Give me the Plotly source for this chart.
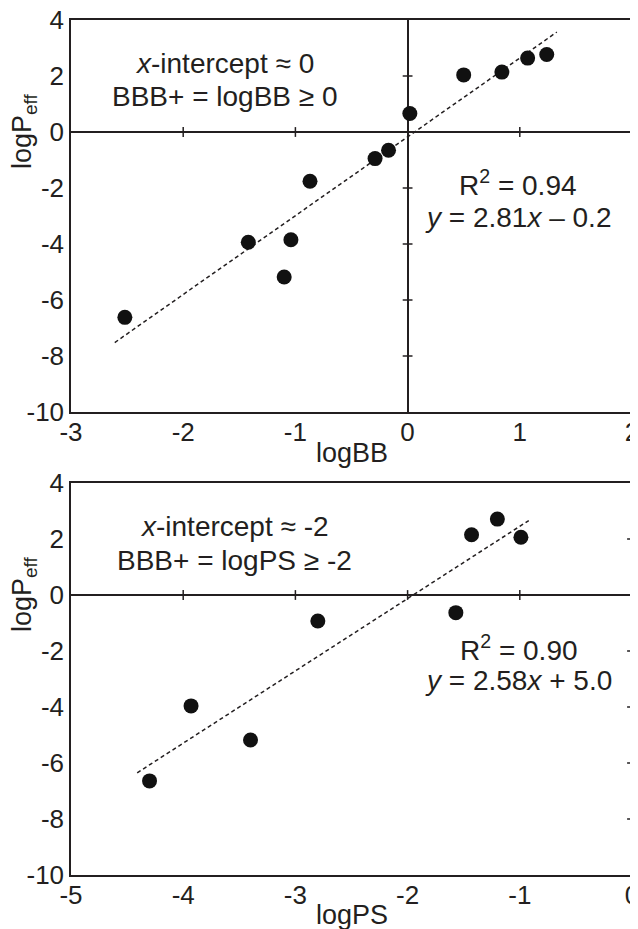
import plotly.graph_objects as go

# ---- data ----
bb_x = [-2.52, -1.42, -1.10, -1.04, -0.87, -0.29, -0.17, 0.02, 0.50, 0.84, 1.07, 1.24]
bb_y = [-6.62, -3.94, -5.18, -3.85, -1.76, -0.95, -0.65, 0.66, 2.04, 2.14, 2.64, 2.77]
bb_fit_x = [-2.61, 1.33]
bb_fit_y = [-7.52, 3.57]

ps_x = [-4.30, -3.93, -3.40, -2.80, -1.57, -1.43, -1.20, -0.99]
ps_y = [-6.64, -3.96, -5.18, -0.93, -0.63, 2.15, 2.71, 2.06]
ps_fit_x = [-4.41, -0.92]
ps_fit_y = [-6.35, 2.66]

y_ticks = [-10, -8, -6, -4, -2, 0, 2, 4]
bb_ticks = [-3, -2, -1, 0, 1, 2]
ps_ticks = [-5, -4, -3, -2, -1, 0]

# minor cross-ticks drawn on the zero lines
bb_inner_xt = [-2, -1, 1]
ps_inner_xt = [-4, -3, -2, -1]
inner_yt = [-8, -6, -4, -2, 2]

INK = "#231f20"
FONT = "Liberation Sans, Arial, Helvetica, sans-serif"
FS_TICK = 26
FS_TXT = 28
FS_TITLE = 27

fig = go.Figure()

def add_panel(xs, ys, fx, fy, inner_xt, xa, ya):
    fig.add_trace(go.Scatter(x=fx, y=fy, mode="lines", xaxis=xa, yaxis=ya,
                             line=dict(color=INK, width=1.5, dash="4px,3px"),
                             showlegend=False, hoverinfo="skip"))
    fig.add_trace(go.Scatter(x=xs, y=ys, mode="markers", xaxis=xa, yaxis=ya,
                             marker=dict(color="#111111", size=15),
                             showlegend=False))
    fig.add_trace(go.Scatter(x=inner_xt, y=[0] * len(inner_xt), mode="markers",
                             xaxis=xa, yaxis=ya, cliponaxis=False,
                             marker=dict(symbol="line-ns", size=7,
                                         line=dict(color=INK, width=1.5)),
                             showlegend=False, hoverinfo="skip"))
    fig.add_trace(go.Scatter(x=[0] * len(inner_yt), y=inner_yt, mode="markers",
                             xaxis=xa, yaxis=ya, cliponaxis=False,
                             marker=dict(symbol="line-ew", size=7,
                                         line=dict(color=INK, width=1.5)),
                             showlegend=False, hoverinfo="skip"))

add_panel(bb_x, bb_y, bb_fit_x, bb_fit_y, bb_inner_xt, "x", "y")
add_panel(ps_x, ps_y, ps_fit_x, ps_fit_y, ps_inner_xt, "x2", "y2")

# the page body has an 8px margin, so the figure is sized / laid out
# to land on the 638x929 window exactly
OFF = 8
W, H = 638 - OFF, 929 - OFF

def px_x(p):
    return (p - OFF) / W

def px_y(p):
    return 1 - (p - OFF) / H

xdom = [px_x(71), px_x(632)]
top_dom = [px_y(412), px_y(20)]
bot_dom = [px_y(875), px_y(483)]

axis_common = dict(showline=True, linecolor=INK, linewidth=1.5, mirror=True,
                   showgrid=False, zeroline=True, zerolinecolor=INK,
                   zerolinewidth=1.5, ticks="", automargin=False,
                   ticklabeloverflow="allow",
                   tickfont=dict(family=FONT, size=FS_TICK, color=INK))

def lab(vals):
    return [str(v) for v in vals]

fig.update_layout(
    width=W, height=H,
    margin=dict(l=0, r=0, t=0, b=0),
    paper_bgcolor="white", plot_bgcolor="white",
    font=dict(family=FONT, size=FS_TXT, color=INK),
    xaxis=dict(domain=xdom, anchor="y", range=[-3, 2], tickvals=bb_ticks,
               ticktext=lab(bb_ticks), ticklabelstandoff=-4, **axis_common),
    yaxis=dict(domain=top_dom, anchor="x", range=[-10, 4], tickvals=y_ticks,
               ticktext=lab(y_ticks), **axis_common),
    xaxis2=dict(domain=xdom, anchor="y2", range=[-5, 0], tickvals=ps_ticks,
                ticktext=lab(ps_ticks), ticklabelstandoff=-4, **axis_common),
    yaxis2=dict(domain=bot_dom, anchor="x2", range=[-10, 4], tickvals=y_ticks,
                ticktext=lab(y_ticks), **axis_common),
)

tfont = dict(family=FONT, size=FS_TITLE, color=INK)
afont = dict(family=FONT, size=FS_TXT, color=INK)
xmid = (xdom[0] + xdom[1]) / 2
ann = [
    # axis titles
    dict(text="logP<sub>eff</sub>", xref="paper", yref="y", x=px_x(24), y=0,
         textangle=-90, showarrow=False, xanchor="center", yanchor="middle", font=tfont),
    dict(text="logP<sub>eff</sub>", xref="paper", yref="y2", x=px_x(24), y=0,
         textangle=-90, showarrow=False, xanchor="center", yanchor="middle", font=tfont),
    dict(text="logBB", xref="paper", yref="paper", x=xmid, y=px_y(453),
         showarrow=False, xanchor="center", yanchor="middle", font=tfont),
    dict(text="logPS", xref="paper", yref="paper", x=xmid, y=px_y(915),
         showarrow=False, xanchor="center", yanchor="middle", font=tfont),
    # top panel notes
    dict(text="<i>x</i>-intercept ≈ 0", xref="x", yref="y", x=-1.63, y=2.45,
         showarrow=False, font=afont),
    dict(text="BBB+ = logBB ≥ 0", xref="x", yref="y", x=-1.63, y=1.26,
         showarrow=False, font=afont),
    dict(text="R<sup>2</sup> = 0.94", xref="x", yref="y", x=0.98, y=-1.82,
         showarrow=False, font=afont),
    dict(text="<i>y</i> = 2.81<i>x</i> – 0.2", xref="x", yref="y", x=0.98, y=-3.05,
         showarrow=False, font=afont),
    # bottom panel notes
    dict(text="<i>x</i>-intercept ≈ -2", xref="x2", yref="y2", x=-3.54, y=2.43,
         showarrow=False, font=afont),
    dict(text="BBB+ = logPS ≥ -2", xref="x2", yref="y2", x=-3.54, y=1.25,
         showarrow=False, font=afont),
    dict(text="R<sup>2</sup> = 0.90", xref="x2", yref="y2", x=-1.01, y=-1.89,
         showarrow=False, font=afont),
    dict(text="<i>y</i> = 2.58<i>x</i> + 5.0", xref="x2", yref="y2", x=-1.01, y=-3.04,
         showarrow=False, font=afont),
]
fig.update_layout(annotations=ann)

fig.write_html("out.html")
